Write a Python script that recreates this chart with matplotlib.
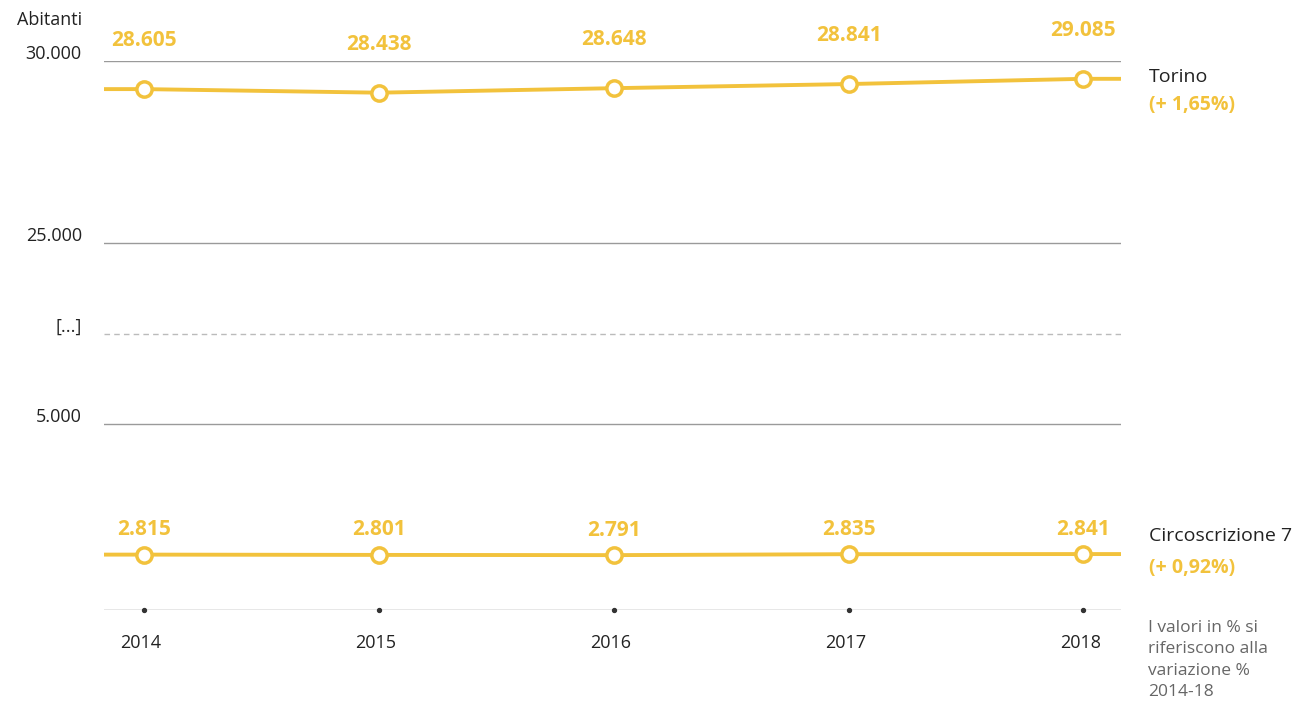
import numpy as np
import matplotlib
matplotlib.use('Agg')
import matplotlib.pyplot as plt

plt.rcParams['font.family'] = ['Open Sans', 'DejaVu Sans']

# data
years = [2014, 2015, 2016, 2017, 2018]
torino = [28605, 28438, 28648, 28841, 29085]
circ7 = [2815, 2801, 2791, 2835, 2841]
labels_torino = ['28.605', '28.438', '28.648', '28.841', '29.085']
labels_circ7 = ['2.815', '2.801', '2.791', '2.835', '2.841']
series_names = ['Torino', 'Circoscrizione 7']
series_change = ['(+ 1,65%)', '(+ 0,92%)']
ytick_vals = [5000, 15000, 25000, 30000]
ytick_labels = ['5.000', '[...]', '25.000', '30.000']

yellow = '#F2C23C'
grey_line = '#9a9a9a'
text_col = '#222222'

# broken axis: piecewise scale (value -> visual height)
anchor_val = np.array([0, 2000, 3500, 5000, 15000, 25000, 28000, 28400, 29100, 30000])
anchor_pos = np.array([0, 38, 70, 186, 276, 367, 506, 516.5, 531.5, 549])


def fwd(v):
    return np.interp(v, anchor_val, anchor_pos)


def inv(p):
    return np.interp(p, anchor_pos, anchor_val)


fig = plt.figure(figsize=(12.97, 7.06), dpi=100)
ax = fig.add_axes([104 / 1297, 96 / 706, (1121 - 104) / 1297, (610 - 61) / 706])
ax.set_yscale('function', functions=(fwd, inv))
ax.set_xlim(2013.83, 2018.16)
ax.set_ylim(0, 30000)

for s in ax.spines.values():
    s.set_visible(False)
ax.set_xticks([])
ax.set_yticks([])

# grid lines
for v, lab in zip(ytick_vals, ytick_labels):
    ls = (0, (4, 3)) if lab == '[...]' else '-'
    col = '#bbbbbb' if lab == '[...]' else grey_line
    ax.axhline(v, color=col, lw=1, ls=ls, zorder=1)
    ax.annotate(lab, (0, v), xycoords=('axes fraction', 'data'),
                xytext=(-16, 5), textcoords='offset points',
                ha='right', va='center', fontsize=13, color=text_col)
ax.axhline(0, color='#888888', lw=1, zorder=1)
ax.annotate('Abitanti', (0, 1), xycoords='axes fraction', xytext=(-16, 29.5),
            textcoords='offset points', ha='right', va='center',
            fontsize=13, color=text_col)

# year ticks
ax.scatter(years, [0] * len(years), s=8, color='#333333', zorder=3, clip_on=False)
for yr in years:
    ax.annotate(str(yr), (yr, 0), xytext=(-2, -24), textcoords='offset points',
                ha='center', va='center', fontsize=13, color=text_col)

xmin, xmax = ax.get_xlim()
for vals, labs, off in [(torino, labels_torino, 35), (circ7, labels_circ7, 18)]:
    xs = [xmin] + years + [xmax]
    ys = [vals[0]] + vals + [vals[-1]]
    ax.plot(xs, ys, color=yellow, lw=2.8, zorder=4, solid_capstyle='butt')
    ax.plot(years, vals, ls='none', marker='o', ms=11, mfc='white',
            mec=yellow, mew=2.5, zorder=5)
    for x, v, l in zip(years, vals, labs):
        ax.annotate(l, (x, v), xytext=(0, off), textcoords='offset points',
                    ha='center', va='center', fontsize=15, fontweight='bold',
                    color=yellow, annotation_clip=False)

# right side labels
for vals, name, chg, dn, dc in zip([torino, circ7], series_names, series_change,
                                   [1, 13], [-19, -10]):
    ax.annotate(name, (1, vals[-1]), xycoords=('axes fraction', 'data'),
                xytext=(20, dn), textcoords='offset points', ha='left',
                va='center', fontsize=14, color=text_col,
                annotation_clip=False)
    ax.annotate(chg, (1, vals[-1]), xycoords=('axes fraction', 'data'),
                xytext=(20, dc), textcoords='offset points', ha='left',
                va='center', fontsize=14, fontweight='bold', color=yellow,
                annotation_clip=False)

fig.text(1148 / 1297, 1 - 620 / 706,
         'I valori in % si\nriferiscono alla\nvariazione %\n2014-18',
         ha='left', va='top', fontsize=12.5, color='#666666', linespacing=1.45)

fig.savefig('out.png', dpi=100)
